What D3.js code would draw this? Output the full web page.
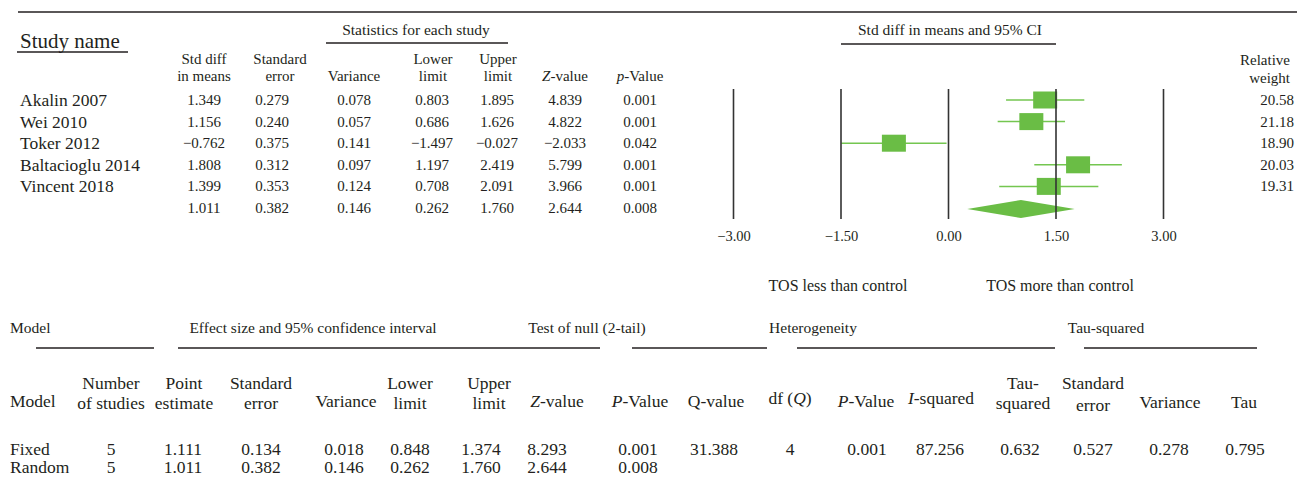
<!DOCTYPE html>
<html>
<head>
<meta charset="utf-8">
<script src="https://cdn.jsdelivr.net/npm/d3@7"></script>
<style>
  body { margin: 0; background: #fff; }
  svg text { font-family: "Liberation Serif", "DejaVu Serif", serif; fill: #231f20; }
</style>
</head>
<body>
<div id="chart"></div>
<script>
// study level data
var studies = ["Akalin 2007", "Wei 2010", "Toker 2012", "Baltacioglu 2014", "Vincent 2018"];
var stdDiff = [1.349, 1.156, -0.762, 1.808, 1.399];
var stdErr = [0.279, 0.240, 0.375, 0.312, 0.353];
var variance = [0.078, 0.057, 0.141, 0.097, 0.124];
var lower = [0.803, 0.686, -1.497, 1.197, 0.708];
var upper = [1.895, 1.626, -0.027, 2.419, 2.091];
var zValue = [4.839, 4.822, -2.033, 5.799, 3.966];
var pValue = [0.001, 0.001, 0.042, 0.001, 0.001];
var relWeight = [20.58, 21.18, 18.90, 20.03, 19.31];
// pooled (random) row
var pooled = [1.011, 0.382, 0.146, 0.262, 1.760, 2.644, 0.008];
var ticks = [-3, -1.5, 0, 1.5, 3];

// model summary table
var models = ["Fixed", "Random"];
var nStudies = [5, 5];
var pointEst = [1.111, 1.011];
var modelSE = [0.134, 0.382];
var modelVar = [0.018, 0.146];
var modelLower = [0.848, 0.262];
var modelUpper = [1.374, 1.760];
var modelZ = [8.293, 2.644];
var modelP = [0.001, 0.008];
var qValue = [31.388], dfQ = [4], hetP = [0.001], iSquared = [87.256];
var tauSq = [0.632], tauSE = [0.527], tauVar = [0.278], tau = [0.795];

var width = 1297, height = 477;
var ink = "#231f20", green = "#6abd45";
var f3 = d3.format(".3f"), f2 = d3.format(".2f");

var svg = d3.select("#chart").append("svg")
    .attr("width", width)
    .attr("height", height);

function txt(x, y, s, size, anchor) {
  return svg.append("text")
      .attr("x", x).attr("y", y)
      .attr("font-size", size)
      .attr("text-anchor", anchor || "middle")
      .text(s);
}
function rule(x1, x2, y) {
  svg.append("line").attr("x1", x1).attr("x2", x2).attr("y1", y).attr("y2", y)
      .attr("stroke", ink).attr("stroke-width", 1.3);
}
// label with italic first part
function itxt(x, y, it, rest, size) {
  var t = txt(x, y, "", size);
  t.append("tspan").attr("font-style", "italic").text(it);
  t.append("tspan").text(rest);
  return t;
}

// ---------- top section ----------
rule(18, 1297, 12);
txt(20, 48, "Study name", 21, "start");
rule(17, 128, 52);
txt(416, 35, "Statistics for each study", 15.5);
rule(326, 508, 43);

var x = d3.scaleLinear().domain([-3, 3]).range([733.5, 1163.5]);
var y = d3.scaleLinear().domain([0, 5]).range([100, 208]);

txt(950, 35, "Std diff in means and 95% CI", 15.5);
rule(x(-1.5), x(1.5), 44);

var hs = 15;
var colX = [204, 272, 354, 432, 497, 565, 640];
txt(204, 64, "Std diff", hs); txt(204, 81, "in means", hs);
txt(280, 64, "Standard", hs); txt(280, 81, "error", hs);
txt(354, 81, "Variance", hs);
txt(433, 64, "Lower", hs); txt(433, 81, "limit", hs);
txt(498, 64, "Upper", hs); txt(498, 81, "limit", hs);
itxt(565, 81, "Z", "-value", hs);
itxt(640, 81, "p", "-Value", hs);
txt(1290, 65, "Relative", hs, "end");
txt(1290, 83, "weight", hs, "end");

var rows = studies.map(function(s, i) {
  return {name: s, vals: [stdDiff[i], stdErr[i], variance[i], lower[i], upper[i], zValue[i], pValue[i]],
          w: relWeight[i], est: stdDiff[i], lo: lower[i], hi: upper[i]};
});

var g = svg.selectAll("g.row").data(rows).enter().append("g").attr("class", "row");
g.append("text")
    .attr("x", 20).attr("y", function(d, i) { return y(i) + 6; })
    .attr("font-size", 17.5)
    .text(function(d) { return d.name; });
rows.forEach(function(d, i) {
  d.vals.forEach(function(v, j) {
    txt(colX[j], y(i) + 5, f3(v), 15);
  });
  txt(1294, y(i) + 5, f2(d.w), 15, "end");
});
pooled.forEach(function(v, j) {
  txt(colX[j], y(5) + 5, f3(v), 15);
});

// CI lines + squares
svg.selectAll("line.ci").data(rows).enter().append("line")
    .attr("x1", function(d) { return x(d.lo); })
    .attr("x2", function(d) { return x(d.hi); })
    .attr("y1", function(d, i) { return y(i); })
    .attr("y2", function(d, i) { return y(i); })
    .attr("stroke", "#74c650").attr("stroke-width", 1.5);
svg.selectAll("rect.box").data(rows).enter().append("rect")
    .attr("x", function(d) { return x(d.est) - 12; })
    .attr("y", function(d, i) { return y(i) - 8.5; })
    .attr("width", 24).attr("height", 17)
    .attr("fill", green);

// pooled diamond
var yd = y(5) + 1;
svg.append("path")
    .attr("d", "M" + x(pooled[3]) + "," + yd + "L" + x(pooled[0]) + "," + (yd - 9) +
               "L" + x(pooled[4]) + "," + yd + "L" + x(pooled[0]) + "," + (yd + 9) + "Z")
    .attr("fill", green);

// reference lines
svg.selectAll("line.ref").data(ticks).enter().append("line")
    .attr("x1", function(d) { return x(d); })
    .attr("x2", function(d) { return x(d); })
    .attr("y1", 89).attr("y2", 219)
    .attr("stroke", "#333").attr("stroke-width", 1.6);

var axis = svg.append("g")
    .attr("transform", "translate(0,225)")
    .call(d3.axisBottom(x).tickValues(ticks).tickSize(0).tickPadding(6).tickFormat(f2));
axis.select(".domain").remove();
axis.selectAll("text")
    .attr("font-size", 14.5)
    .style("font-family", "'Liberation Serif', serif")
    .attr("fill", ink);

txt(838, 291, "TOS less than control", 16);
txt(1060, 291, "TOS more than control", 16);

// ---------- bottom section ----------
var gs = 15.5;
txt(10, 333, "Model", gs, "start");
txt(313, 333, "Effect size and 95% confidence interval", gs);
txt(587, 333, "Test of null (2-tail)", gs);
txt(813, 333, "Heterogeneity", gs);
txt(1106, 333, "Tau-squared", gs);
rule(36, 154, 348);
rule(178, 600, 348);
rule(632, 767, 348);
rule(797, 1055, 348);
rule(1084, 1257, 348);

var h1 = 389, h2 = 409, fs = 17.5;
txt(10, 407, "Model", fs, "start");
txt(111, h1, "Number", fs); txt(111, h2, "of studies", fs);
txt(184, h1, "Point", fs); txt(184, h2, "estimate", fs);
txt(261, h1, "Standard", fs); txt(261, h2, "error", fs);
txt(346, 407, "Variance", fs);
txt(410, h1, "Lower", fs); txt(410, h2, "limit", fs);
txt(489, h1, "Upper", fs); txt(489, h2, "limit", fs);
itxt(557, 407, "Z", "-value", fs);
itxt(640, 407, "P", "-Value", fs);
txt(716, 407, "Q-value", fs);
var dfq = txt(790, 404, "df (", fs);
dfq.append("tspan").attr("font-style", "italic").text("Q");
dfq.append("tspan").text(")");
itxt(866, 407, "P", "-Value", fs);
itxt(941, 404, "I", "-squared", fs);
txt(1023, 389, "Tau-", fs); txt(1023, 409, "squared", fs);
txt(1093, 389, "Standard", fs); txt(1093, 411, "error", fs);
txt(1170, 408, "Variance", fs);
txt(1244, 408, "Tau", fs);

var mCols = [
  {x: 111, v: nStudies, f: String},
  {x: 183, v: pointEst, f: f3},
  {x: 261, v: modelSE, f: f3},
  {x: 344, v: modelVar, f: f3},
  {x: 410, v: modelLower, f: f3},
  {x: 481, v: modelUpper, f: f3},
  {x: 547, v: modelZ, f: f3},
  {x: 638, v: modelP, f: f3},
  {x: 714, v: qValue, f: f3},
  {x: 790, v: dfQ, f: String},
  {x: 867, v: hetP, f: f3},
  {x: 940, v: iSquared, f: f3},
  {x: 1020, v: tauSq, f: f3},
  {x: 1093, v: tauSE, f: f3},
  {x: 1169, v: tauVar, f: f3},
  {x: 1245, v: tau, f: f3}
];
var rowY = d3.scalePoint().domain(models).range([455, 473]);
models.forEach(function(m) {
  txt(10, rowY(m), m, fs, "start");
});
mCols.forEach(function(c) {
  c.v.forEach(function(v, i) {
    txt(c.x, rowY(models[i]), c.f(v), fs);
  });
});
</script>
</body>
</html>
